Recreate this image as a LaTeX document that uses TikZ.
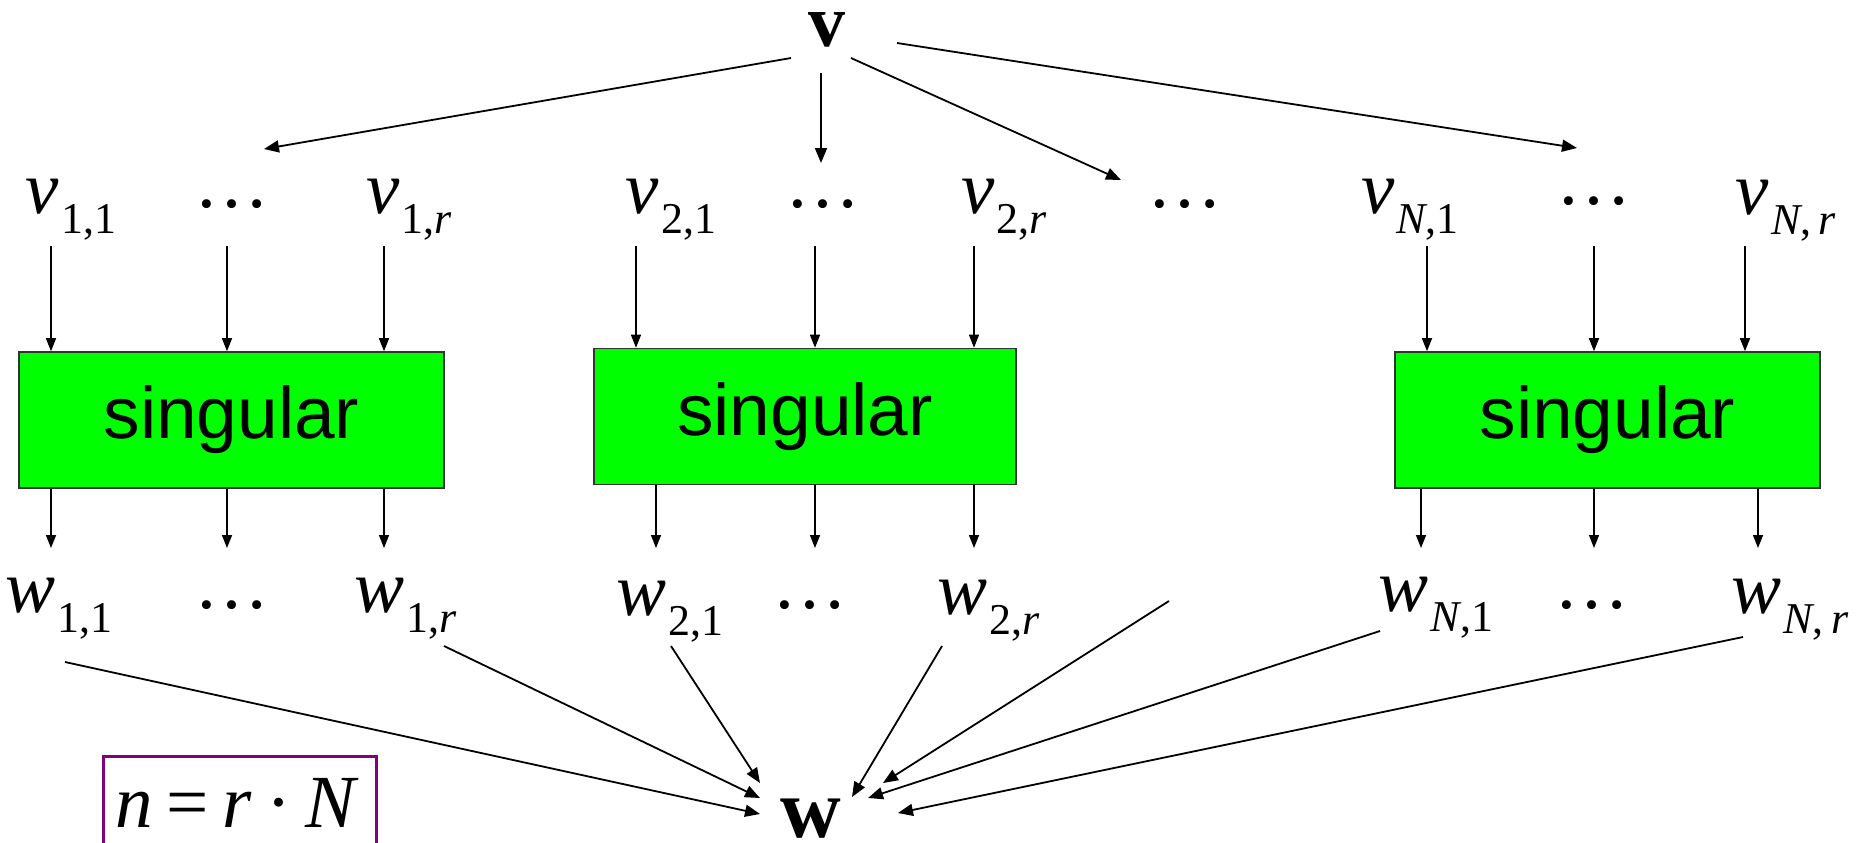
\documentclass[tikz,border=0pt]{standalone}
\usepackage{fontspec}
\setmainfont{Liberation Serif}
\newfontfamily\boxfont{Liberation Sans}
\usetikzlibrary{arrows.meta,calc}
\newcommand\lbl[2]{\textit{#1}\kern1pt\raisebox{-10pt}{\fontsize{22}{22}\selectfont #2}}
\newcommand\dts{…}
\definecolor{boxgreen}{RGB}{0,255,0}
\definecolor{boxpurple}{RGB}{128,0,128}
\begin{document}
\begin{tikzpicture}[x=0.5pt,y=-0.5pt,
  every node/.style={inner sep=0pt, font=\fontsize{37.5}{40}\selectfont},
  lab/.style={anchor=base},
  dotsnode/.style={anchor=center},
  arr/.style={line width=0.9pt, -{Triangle[length=7.5pt,width=6pt]}},
  varr/.style={line width=0.75pt, -{Triangle[length=6.5pt,width=5pt]}},
  singbox/.style={draw=black!80, line width=0.8pt, fill=boxgreen, minimum width=211pt, minimum height=68pt, font=\boxfont\fontsize{36.5}{40}\selectfont}]
\useasboundingbox (0,0) rectangle (1865,842);

% top vector
\node[lab, font=\bfseries\fontsize{37}{40}\selectfont] (V) at (827,46) {v};

% v row
\node[lab] (v11) at (71,213) {\lbl{v}{1,1}};
\node[dotsnode] (v12) at (232,204) {\dts};
\node[lab] (v1r) at (409,213) {\lbl{v}{1,\textit{r}}};
\node[lab] (v21) at (671,213) {\lbl{v}{2,1}};
\node[dotsnode] (v22) at (823,204) {\dts};
\node[lab] (v2r) at (1004,213) {\lbl{v}{2,\textit{r}}};
\node[dotsnode] (vmid) at (1185,204) {\dts};
\node[lab] (vN1) at (1410,213) {\lbl{v}{\textit{N},1}};
\node[dotsnode] (vN2) at (1594,201) {\dts};
\node[lab] (vNr) at (1786,214) {\lbl{v}{\textit{N},\,\textit{r}}};

% boxes
\node[singbox, minimum width=212.5pt] (b1) at (231.5,420) {singular};
\node[singbox] (b2) at (805,416.5) {singular};
\node[singbox, minimum width=212.5pt] (b3) at (1607.5,420) {singular};

% w row
\node[lab] (w11) at (59,612) {\lbl{w}{1,1}};
\node[dotsnode] (w12) at (232,605) {\dts};
\node[lab] (w1r) at (406,612) {\lbl{w}{1,\textit{r}}};
\node[lab] (w21) at (670,615) {\lbl{w}{2,1}};
\node[dotsnode] (w22) at (810,605) {\dts};
\node[lab] (w2r) at (989,614) {\lbl{w}{2,\textit{r}}};
\node[lab] (wN1) at (1436,611) {\lbl{w}{\textit{N},1}};
\node[dotsnode] (wN2) at (1592,605) {\dts};
\node[lab] (wNr) at (1790,613) {\lbl{w}{\textit{N},\,\textit{r}}};

% bottom vector
\node[lab, font=\bfseries\fontsize{42}{44}\selectfont] (W) at (811,837) {w};

% n = r N box
\node[draw=boxpurple, line width=1.5pt, anchor=north west, minimum width=136.5pt, minimum height=60pt] (nbox) at (102,755) {};
\node[lab] (neq) at (237,827) {\textit{n}\kern7pt=\kern7pt\textit{r}\kern7pt·\kern7pt\textit{N}};

% helper coordinates
\coordinate (vbot) at (0,246);
\coordinate (wtop) at (0,548);
\coordinate (c11) at (51,0);   \coordinate (c12) at (227,0);  \coordinate (c13) at (384,0);
\coordinate (c21) at (636,0);  \coordinate (c22) at (815,0);  \coordinate (c23) at (974,0);
\coordinate (c31) at (1427,0); \coordinate (c32) at (1594,0); \coordinate (c33) at (1745,0);
\coordinate (d21) at (656,0);  \coordinate (d31) at (1421,0); \coordinate (d33) at (1758,0);

% arrows from v
\coordinate (t1) at (264,149);
\coordinate (t2) at (821,163);
\coordinate (t3) at (1121,180);
\coordinate (t4) at (1577,148);
\draw[arr] ($(V.base)+(-36,12)$) -- (t1);
\draw[arr] ($(V.base)+(-6,27)$) -- (t2);
\draw[arr] ($(V.base)+(24,12)$) -- (t3);
\draw[arr] ($(V.base)+(70,-3)$) -- (t4);

% into boxes
\foreach \c/\b in {c11/b1,c12/b1,c13/b1,c21/b2,c22/b2,c23/b2,c31/b3,c32/b3,c33/b3}
  \draw[varr] (\c |- vbot) -- (\b.north -| \c);
% out of boxes
\foreach \c/\b in {c11/b1,c12/b1,c13/b1,d21/b2,c22/b2,c23/b2,d31/b3,c32/b3,d33/b3}
  \draw[varr] (\b.south -| \c) -- (\c |- wtop);

% into w
\coordinate (lone) at (1169,601);
\draw[arr] ($(w11.base)+(6,50)$) -- ($(W.base)+(-51,-23)$);
\draw[arr] ($(w1r.base)+(38,34)$) -- ($(W.base)+(-51,-39)$);
\draw[arr] ($(w21.base)+(1,31)$) -- ($(W.base)+(-51,-54)$);
\draw[arr] ($(w2r.base)+(-47,32)$) -- ($(W.base)+(41,-40)$);
\draw[arr] (lone) -- ($(W.base)+(72,-54)$);
\draw[arr] ($(wN1.base)+(-56,20)$) -- ($(W.base)+(57,-39)$);
\draw[arr] ($(wNr.base)+(-47,24)$) -- ($(W.base)+(87,-24)$);
\end{tikzpicture}
\end{document}
